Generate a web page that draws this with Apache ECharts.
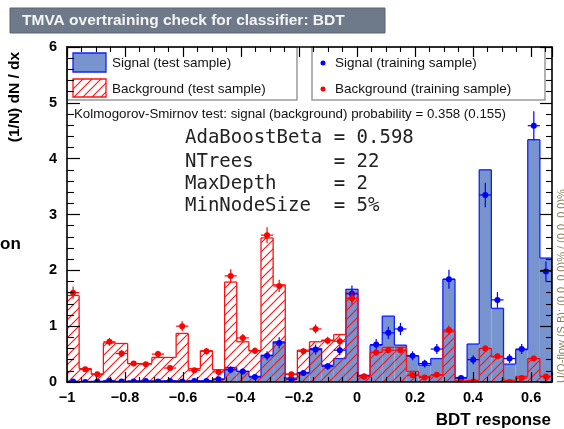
<!DOCTYPE html>
<html><head><meta charset="utf-8">
<script src="https://cdn.jsdelivr.net/npm/echarts@6/dist/echarts.min.js"></script>
<style>html,body{margin:0;padding:0;background:#fff}#c{width:564px;height:429px}</style>
</head><body><div id="c"></div>
<script>
// BDT response range and binning
const X_MIN = -1;
const X_MAX = 0.672;
const N_BINS = 40;

// Signal, test sample (normalised histogram)
const sigTest = [0.01,0.01,0.01,0.02,0.01,0.02,0.01,0.02,0.02,0.02,
                 0.02,0.02,0.05,0.26,0.19,0.10,0.48,0.72,0.07,0.17,
                 0.60,0.30,0.42,1.66,0.12,0.66,1.18,0.66,0.47,0.30,
                 0.42,1.84,0.08,0.68,3.80,1.32,0.32,0.58,4.34,2.22];
// Background, test sample
const bkgTest = [1.55,0.24,0.14,0.70,0.69,0.33,0.33,0.44,0.44,0.87,
                 0.24,0.56,0.22,1.79,0.72,0.56,2.58,1.74,0.14,0.57,
                 0.72,0.75,0.85,1.59,0.10,0.53,0.62,0.62,0.19,0.10,
                 0.12,0.90,0.02,0.03,0.60,0.45,0.03,0.10,0.42,0.10];
// Signal, training sample (points) and their errors
const sigTrain = [0.01,0.00,0.01,0.02,0.01,0.01,0.02,0.01,0.02,0.01,
                  0.02,0.02,0.05,0.22,0.19,0.09,0.47,0.70,0.05,0.16,
                  0.58,0.28,0.57,1.58,0.10,0.67,0.88,0.95,0.47,0.33,
                  0.59,1.84,0.07,0.40,3.35,1.47,0.42,0.59,4.59,1.98];
const sigTrainErr = [0.01,0.01,0.01,0.02,0.01,0.01,0.02,0.01,0.02,0.01,
                     0.02,0.02,0.03,0.06,0.05,0.04,0.08,0.10,0.03,0.05,
                     0.09,0.06,0.09,0.15,0.04,0.10,0.11,0.11,0.08,0.07,
                     0.09,0.17,0.03,0.08,0.22,0.14,0.08,0.09,0.26,0.18];
// Background, training sample (points) and their errors
const bkgTrain = [1.60,0.23,0.14,0.72,0.51,0.33,0.32,0.50,0.25,1.00,
                  0.21,0.55,0.18,1.90,0.79,0.56,2.63,1.72,0.14,0.55,
                  0.95,0.74,0.73,1.50,0.10,0.53,0.57,0.57,0.12,0.08,
                  0.13,0.93,0.00,0.01,0.60,0.46,0.00,0.07,0.42,0.10];
const bkgTrainErr = [0.11,0.04,0.03,0.07,0.06,0.04,0.04,0.06,0.04,0.09,
                     0.04,0.06,0.04,0.12,0.07,0.06,0.14,0.11,0.03,0.06,
                     0.08,0.07,0.07,0.11,0.03,0.06,0.06,0.06,0.03,0.02,
                     0.03,0.08,0.01,0.01,0.06,0.05,0.01,0.02,0.05,0.03];

// Text
const titleText = 'TMVA overtraining check for classifier: BDT';
const yTitle = '(1/N) dN / dx';
const xTitle = 'BDT response';
const ksText = 'Kolmogorov-Smirnov test: signal (background) probability = 0.358 (0.155)';
const paramLines = ['AdaBoostBeta = 0.598', 'NTrees       = 22', 'MaxDepth     = 2', 'MinNodeSize  = 5%'];
const legendLabels = ['Signal (test sample)', 'Background (test sample)', 'Signal (training sample)', 'Background (training sample)'];
const flowText = 'U/O-flow (S,B): (0.0, 0.0)% / (0.0, 0.0)%';

const SIG_FILL = '#7794cf';
const SIG_LINE = '#1020ff';
const BKG_LINE = '#ff1010';
const SANS = '"Liberation Sans", Arial, Helvetica, sans-serif';

const binW = (X_MAX - X_MIN) / N_BINS;
const edges = [];
for (let i = 0; i <= N_BINS; i++) edges.push(X_MIN + i * binW);

// diagonal red hatching tile
function makeHatch() {
  const s = 9, c = document.createElement('canvas');
  c.width = s; c.height = s;
  const g = c.getContext('2d');
  g.strokeStyle = BKG_LINE; g.lineWidth = 1.1;
  g.beginPath();
  g.moveTo(0, s); g.lineTo(s, 0);
  g.moveTo(-2, 2); g.lineTo(2, -2);
  g.moveTo(s - 2, s + 2); g.lineTo(s + 2, s - 2);
  g.stroke();
  return c;
}
const hatchTile = makeHatch();
const hatchFill = () => ({ image: hatchTile, repeat: 'repeat' });

function histData(arr) { return arr.map((v, i) => [(edges[i] + edges[i + 1]) / 2, v, i]); }
function pointData(arr, err) { return arr.map((v, i) => [(edges[i] + edges[i + 1]) / 2, v, err[i], i]); }

// filled step histogram: bin fill + step outline
function histRender(arr, fill, stroke) {
  return function (params, api) {
    const i = api.value(2), v = api.value(1);
    const x0 = edges[i], x1 = edges[i + 1];
    const b = api.coord([x0, 0]), t = api.coord([x1, v]);
    const prev = i > 0 ? arr[i - 1] : 0;
    const pp = api.coord([x0, prev]);
    const children = [
      { type: 'rect', shape: { x: b[0], y: t[1], width: t[0] - b[0], height: b[1] - t[1] },
        style: { fill: typeof fill === 'function' ? fill() : fill, stroke: null } },
      { type: 'line', shape: { x1: b[0], y1: t[1], x2: t[0], y2: t[1] }, style: { stroke: stroke, lineWidth: 1.3 } },
      { type: 'line', shape: { x1: b[0], y1: pp[1], x2: b[0], y2: t[1] }, style: { stroke: stroke, lineWidth: 1.3 } }
    ];
    if (i === arr.length - 1) {
      children.push({ type: 'line', shape: { x1: t[0], y1: t[1], x2: t[0], y2: b[1] }, style: { stroke: stroke, lineWidth: 1.3 } });
    }
    return { type: 'group', children: children };
  };
}

// marker with error bars
function pointRender(color) {
  return function (params, api) {
    const xc = api.value(0), v = api.value(1), e = api.value(2), i = api.value(3);
    const c = api.coord([xc, v]);
    const lo = api.coord([xc, Math.max(0, v - e)]), hi = api.coord([xc, v + e]);
    const l = api.coord([edges[i], v]), r = api.coord([edges[i + 1], v]);
    return { type: 'group', children: [
      { type: 'line', shape: { x1: c[0], y1: lo[1], x2: c[0], y2: hi[1] }, style: { stroke: color, lineWidth: 1.2 } },
      { type: 'line', shape: { x1: l[0], y1: c[1], x2: r[0], y2: c[1] }, style: { stroke: color, lineWidth: 1.2 } },
      { type: 'circle', shape: { cx: c[0], cy: c[1], r: 3 }, style: { fill: color } }
    ] };
  };
}

const fmtX = v => (Math.abs(v) < 1e-9 ? '0' : String(+v.toFixed(1))).replace('-', '\u2212');

const axisCommon = {
  axisLine: { show: true, onZero: false, lineStyle: { color: '#000', width: 1.6 } },
  splitLine: { show: false },
  z: 10
};

const chart = echarts.init(document.getElementById('c'), null, { renderer: 'canvas' });
chart.setOption({
  animation: false,
  backgroundColor: '#fff',
  grid: { left: 67, top: 47, width: 485, height: 335, containLabel: false },
  xAxis: [
    Object.assign({}, axisCommon, {
      type: 'value', min: X_MIN, max: X_MAX, interval: 0.2, position: 'bottom',
      axisTick: { show: true, inside: true, length: 10, lineStyle: { color: '#000', width: 1.2 } },
      minorTick: { show: true, splitNumber: 4, length: 5, lineStyle: { color: '#000', width: 1.1 } },
      axisLabel: { show: true, showMaxLabel: false, formatter: fmtX, color: '#000', fontSize: 14.5,
                   fontWeight: 'bold', fontFamily: SANS, margin: 8 }
    }),
    Object.assign({}, axisCommon, {
      type: 'value', min: X_MIN, max: X_MAX, interval: 0.2, position: 'top',
      axisTick: { show: true, inside: true, length: 10, lineStyle: { color: '#000', width: 1.2 } },
      minorTick: { show: true, splitNumber: 4, length: 5, lineStyle: { color: '#000', width: 1.1 } },
      axisLabel: { show: false }
    })
  ],
  yAxis: [
    Object.assign({}, axisCommon, {
      type: 'value', min: 0, max: 6, interval: 1, position: 'left',
      axisTick: { show: true, inside: true, length: 13, lineStyle: { color: '#000', width: 1.2 } },
      minorTick: { show: true, splitNumber: 5, length: 7, lineStyle: { color: '#000', width: 1.1 } },
      axisLabel: { show: true, color: '#000', fontSize: 14.5, fontWeight: 'bold', fontFamily: SANS, margin: 10 }
    }),
    Object.assign({}, axisCommon, {
      type: 'value', min: 0, max: 6, interval: 1, position: 'right',
      axisTick: { show: true, inside: true, length: 12, lineStyle: { color: '#000', width: 1.2 } },
      minorTick: { show: true, splitNumber: 5, length: 6, lineStyle: { color: '#000', width: 1.1 } },
      axisLabel: { show: false }
    })
  ],
  series: [
    { type: 'custom', name: legendLabels[0], renderItem: histRender(sigTest, SIG_FILL, SIG_LINE),
      data: histData(sigTest), encode: { x: 0, y: 1 }, clip: true, z: 2 },
    { type: 'custom', name: legendLabels[1], renderItem: histRender(bkgTest, hatchFill, BKG_LINE),
      data: histData(bkgTest), encode: { x: 0, y: 1 }, clip: true, z: 3 },
    { type: 'custom', name: legendLabels[2], renderItem: pointRender('#0000ff'),
      data: pointData(sigTrain, sigTrainErr), encode: { x: 0, y: 1 }, clip: true, z: 4 },
    { type: 'custom', name: legendLabels[3], renderItem: pointRender('#ff0000'),
      data: pointData(bkgTrain, bkgTrainErr), encode: { x: 0, y: 1 }, clip: true, z: 5 }
  ],
  graphic: [
    // title banner
    { type: 'rect', z: 20, shape: { x: 10, y: 8, width: 375, height: 25 },
      style: { fill: '#6e7989', stroke: '#5a6474', lineWidth: 1 } },
    { type: 'text', z: 21, x: 22, y: 20.5, style: { text: titleText, fill: '#f4f4f4', font: 'bold 15.5px ' + SANS, textVerticalAlign: 'middle' } },
    // axis titles
    { type: 'text', z: 21, x: 15, y: 97, rotation: Math.PI / 2,
      style: { text: yTitle, fill: '#000', font: 'bold 15.5px ' + SANS, textAlign: 'center', textVerticalAlign: 'middle' } },
    { type: 'text', z: 21, x: 551, y: 420,
      style: { text: xTitle, fill: '#000', font: 'bold 17px ' + SANS, textAlign: 'right', textVerticalAlign: 'middle' } },
    // legend boxes
    { type: 'rect', z: 6, shape: { x: 67, y: 47, width: 230, height: 53 },
      style: { fill: '#fff', stroke: '#9a9a9a', lineWidth: 1.5 } },
    { type: 'rect', z: 6, shape: { x: 312, y: 47, width: 233, height: 53 },
      style: { fill: '#fff', stroke: '#9a9a9a', lineWidth: 1.5 } },
    { type: 'rect', z: 7, shape: { x: 73, y: 53, width: 33, height: 19 },
      style: { fill: SIG_FILL, stroke: SIG_LINE, lineWidth: 1.3 } },
    { type: 'rect', z: 7, shape: { x: 73, y: 79, width: 33, height: 18 },
      style: { fill: hatchFill(), stroke: BKG_LINE, lineWidth: 1.3 } },
    { type: 'text', z: 7, x: 112, y: 63, style: { text: legendLabels[0], fill: '#111', font: '13.5px ' + SANS, textVerticalAlign: 'middle' } },
    { type: 'text', z: 7, x: 112, y: 89, style: { text: legendLabels[1], fill: '#111', font: '13.5px ' + SANS, textVerticalAlign: 'middle' } },
    { type: 'circle', z: 7, shape: { cx: 323, cy: 63, r: 2.5 }, style: { fill: '#0000ff' } },
    { type: 'circle', z: 7, shape: { cx: 323, cy: 89, r: 2.5 }, style: { fill: '#ff0000' } },
    { type: 'text', z: 7, x: 335, y: 63, style: { text: legendLabels[2], fill: '#111', font: '13.5px ' + SANS, textVerticalAlign: 'middle' } },
    { type: 'text', z: 7, x: 335, y: 89, style: { text: legendLabels[3], fill: '#111', font: '13.5px ' + SANS, textVerticalAlign: 'middle' } },
    // KS test result
    { type: 'text', z: 7, x: 74, y: 114, style: { text: ksText, fill: '#111', font: '13.3px ' + SANS, textVerticalAlign: 'middle' } },
    // BDT parameters
    { type: 'text', z: 7, x: 185, y: 138, style: { text: paramLines[0], fill: '#222', font: '19px "DejaVu Sans Mono", monospace', textVerticalAlign: 'middle' } },
    { type: 'text', z: 7, x: 185, y: 162, style: { text: paramLines[1], fill: '#222', font: '19px "DejaVu Sans Mono", monospace', textVerticalAlign: 'middle' } },
    { type: 'text', z: 7, x: 185, y: 184, style: { text: paramLines[2], fill: '#222', font: '19px "DejaVu Sans Mono", monospace', textVerticalAlign: 'middle' } },
    { type: 'text', z: 7, x: 185, y: 206, style: { text: paramLines[3], fill: '#222', font: '19px "DejaVu Sans Mono", monospace', textVerticalAlign: 'middle' } },
    // under/overflow note along the right edge
    { type: 'text', z: 7, x: 562, y: 286, rotation: Math.PI / 2,
      style: { text: flowText, fill: '#8a7d5c', font: '11px ' + SANS, textAlign: 'center', textVerticalAlign: 'middle' } },
    // fragment of neighbouring text at the left margin
    { type: 'text', z: 7, x: 0, y: 244, style: { text: 'on', fill: '#000', font: 'bold 17px ' + SANS, textVerticalAlign: 'middle' } }
  ]
});
</script></body></html>
